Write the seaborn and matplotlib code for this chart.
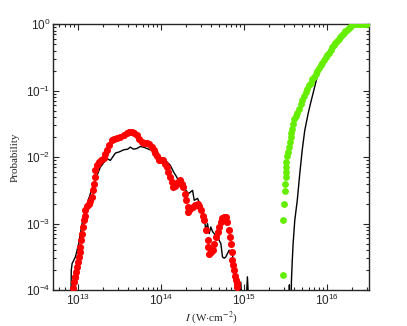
import numpy as np
import pandas as pd
import matplotlib
matplotlib.use("Agg")
import matplotlib.pyplot as plt
import seaborn as sns

# ---- data (log10 values) ----
red_logI = [12.94, 12.95, 12.96, 12.97, 12.98, 12.99, 13.00, 13.01, 13.02, 13.03, 13.04, 13.05,
            13.06, 13.07, 13.08, 13.09, 13.11, 13.13, 13.15, 13.17, 13.18, 13.19, 13.20, 13.21,
            13.23, 13.25, 13.28, 13.31, 13.33, 13.35, 13.38, 13.41, 13.44, 13.47, 13.51, 13.55,
            13.59, 13.62, 13.65, 13.68, 13.71, 13.74, 13.77, 13.80, 13.83, 13.86, 13.89, 13.91,
            13.93, 13.95, 13.97, 14.00, 14.03, 14.05, 14.07, 14.09, 14.11, 14.13, 14.15, 14.17,
            14.19, 14.21, 14.23, 14.25, 14.27, 14.29, 14.30, 14.32, 14.33, 14.35, 14.38, 14.41,
            14.44, 14.46, 14.48, 14.50, 14.52, 14.54, 14.56, 14.57, 14.58, 14.60, 14.62, 14.64,
            14.66, 14.68, 14.70, 14.72, 14.74, 14.76, 14.78, 14.80, 14.82, 14.83, 14.84, 14.85,
            14.86, 14.87, 14.88, 14.89, 14.90, 14.91, 14.92]
red_logP = [-3.97, -3.88, -3.80, -3.80, -3.72, -3.65, -3.58, -3.50, -3.42, -3.35, -3.25, -3.15,
            -3.05, -2.95, -2.88, -2.80, -2.74, -2.70, -2.66, -2.60, -2.50, -2.40, -2.30, -2.20,
            -2.12, -2.07, -2.05, -2.02, -1.95, -1.89, -1.82, -1.74, -1.72, -1.71, -1.69, -1.66,
            -1.64, -1.62, -1.62, -1.64, -1.67, -1.72, -1.77, -1.78, -1.79, -1.81, -1.85, -1.89,
            -1.94, -1.99, -2.05, -2.04, -2.05, -2.10, -2.15, -2.22, -2.30, -2.38, -2.45, -2.43,
            -2.40, -2.37, -2.35, -2.40, -2.45, -2.55, -2.65, -2.75, -2.82, -2.78, -2.75, -2.72,
            -2.70, -2.74, -2.80, -2.88, -2.95, -3.10, -3.25, -3.35, -3.45, -3.42, -3.40, -3.30,
            -3.20, -3.12, -3.05, -2.98, -2.92, -2.90, -2.90, -2.98, -3.10, -3.20, -3.30, -3.42,
            -3.55, -3.62, -3.70, -3.78, -3.85, -3.90, -3.95]

green_logI = [15.47, 15.47, 15.48, 15.49, 15.49, 15.50, 15.50, 15.51, 15.51, 15.52, 15.53, 15.54,
              15.55, 15.56, 15.57, 15.58, 15.59, 15.60, 15.62, 15.64, 15.66, 15.68, 15.70, 15.72,
              15.74, 15.76, 15.78, 15.80, 15.82, 15.84, 15.86, 15.88, 15.90, 15.92, 15.94, 15.96,
              15.98, 16.00, 16.02, 16.04, 16.06, 16.08, 16.10, 16.12, 16.14, 16.16, 16.18, 16.20,
              16.22, 16.24, 16.26, 16.28, 16.30, 16.32, 16.34, 16.36, 16.38, 16.40, 16.42, 16.44,
              16.46, 16.48]
green_logP = [-3.77, -2.95, -2.70, -2.51, -2.40, -2.30, -2.22, -2.15, -2.08, -1.98, -1.92, -1.85,
              -1.77, -1.69, -1.63, -1.57, -1.50, -1.42, -1.38, -1.34, -1.27, -1.20, -1.14, -1.08,
              -1.02, -0.97, -0.92, -0.88, -0.83, -0.79, -0.75, -0.70, -0.66, -0.62, -0.58, -0.54,
              -0.50, -0.46, -0.43, -0.39, -0.35, -0.32, -0.28, -0.25, -0.22, -0.19, -0.16, -0.13,
              -0.11, -0.09, -0.06, -0.04, -0.02, 0.0, 0.0, 0.0, 0.0, 0.0, 0.0, 0.0,
              0.0, 0.0]

black1_logI = [12.915, 12.92, 12.93, 12.97, 13.01, 13.05, 13.11, 13.19, 13.27, 13.35, 13.39,
               13.45, 13.50, 13.55, 13.60, 13.63, 13.67, 13.71, 13.75, 13.79, 13.83, 13.87,
               13.91, 13.95, 13.99, 14.03, 14.07, 14.11, 14.15, 14.18, 14.21, 14.24, 14.27,
               14.30, 14.33, 14.36, 14.38, 14.40, 14.44, 14.46, 14.48, 14.50, 14.52, 14.54,
               14.56, 14.58, 14.60, 14.62, 14.64, 14.66, 14.68, 14.70, 14.72, 14.74, 14.76,
               14.78, 14.80, 14.82, 14.84, 14.86, 14.88, 14.90, 14.92, 14.94, 14.96, 14.98,
               15.00, 15.02, 15.04, 15.06, 15.08]
black1_logP = [-4.3, -3.70, -3.60, -3.50, -3.30, -3.00, -2.70, -2.40, -2.15, -2.02, -2.05,
               -1.94, -1.92, -1.89, -1.88, -1.85, -1.88, -1.87, -1.84, -1.85, -1.87, -1.89,
               -1.90, -1.97, -2.00, -2.02, -2.07, -2.12, -2.22, -2.28, -2.35, -2.38, -2.45,
               -2.50, -2.55, -2.52, -2.50, -2.65, -2.62, -2.68, -2.80, -2.86, -2.92, -3.10,
               -3.00, -3.15, -3.05, -3.12, -3.15, -3.18, -3.20, -3.25, -3.30, -3.50, -3.52,
               -3.50, -3.45, -3.40, -3.42, -3.45, -3.75, -4.00, -4.3, -4.3, -3.88, -4.3,
               -4.3, -4.3, -3.80, -4.3, -4.3]

black2_logI = [15.53, 15.54, 15.545, 15.55, 15.56, 15.565, 15.57, 15.58, 15.59, 15.61, 15.64,
               15.67, 15.70, 15.73, 15.77, 15.80, 15.84, 15.88, 15.92, 15.96, 16.00, 16.04,
               16.08, 16.12, 16.16, 16.20, 16.24, 16.28, 16.31, 16.33, 16.40, 16.50]
black2_logP = [-4.3, -4.3, -3.92, -4.3, -4.3, -4.3, -3.85, -3.55, -3.30, -2.95, -2.65,
               -2.25, -1.89, -1.60, -1.35, -1.19, -0.99, -0.79, -0.66, -0.55, -0.44, -0.36,
               -0.30, -0.24, -0.19, -0.14, -0.10, -0.06, -0.02, 0.0, 0.0, 0.0]

# ---- figure ----
sns.set_style("ticks")
plt.rcParams["font.family"] = ["Liberation Sans", "DejaVu Sans"]
plt.rcParams["mathtext.fontset"] = "stix"
plt.rcParams["xtick.direction"] = "in"
plt.rcParams["ytick.direction"] = "in"

fig = plt.figure(figsize=(4.07, 3.26), dpi=100)
ax = fig.add_axes([0.130, 0.110, 0.777, 0.816])

red = pd.DataFrame({"I": 10 ** np.array(red_logI), "P": 10 ** np.array(red_logP)})
green = pd.DataFrame({"I": 10 ** np.array(green_logI), "P": 10 ** np.array(green_logP)})
b1 = pd.DataFrame({"I": 10 ** np.array(black1_logI), "P": 10 ** np.array(black1_logP)})
b2 = pd.DataFrame({"I": 10 ** np.array(black2_logI), "P": 10 ** np.array(black2_logP)})

ax.set_xscale("log")
ax.set_yscale("log")

sns.lineplot(data=b1, x="I", y="P", ax=ax, color="black", lw=1.0, sort=False, estimator=None)
sns.lineplot(data=b2, x="I", y="P", ax=ax, color="black", lw=1.0, sort=False, estimator=None)
sns.scatterplot(data=red, x="I", y="P", ax=ax, color="#ff0000", s=26, linewidth=0, zorder=3)
sns.scatterplot(data=green, x="I", y="P", ax=ax, color="#66ee00", s=24, linewidth=0, zorder=3)

ax.set_xlim(5e12, 3.2e16)
ax.set_ylim(1e-4, 1)
ax.set_xticks([1e13, 1e14, 1e15, 1e16])
ax.set_yticks([1e-4, 1e-3, 1e-2, 1e-1, 1])
ax.tick_params(which="both", top=True, right=True, direction="in", labelsize=8.5, width=0.8)
ax.tick_params(which="major", length=4, pad=2)
ax.tick_params(which="minor", length=2)
for s in ax.spines.values():
    s.set_linewidth(1.0)

ax.set_xlabel(r"$I$ (W$\cdot$cm$^{-2}$)", fontsize=8, family=["Liberation Serif"], labelpad=1)
ax.set_ylabel("Probability", fontsize=8, family=["Liberation Serif"], labelpad=4)

fig.savefig("out.png", dpi=100)
